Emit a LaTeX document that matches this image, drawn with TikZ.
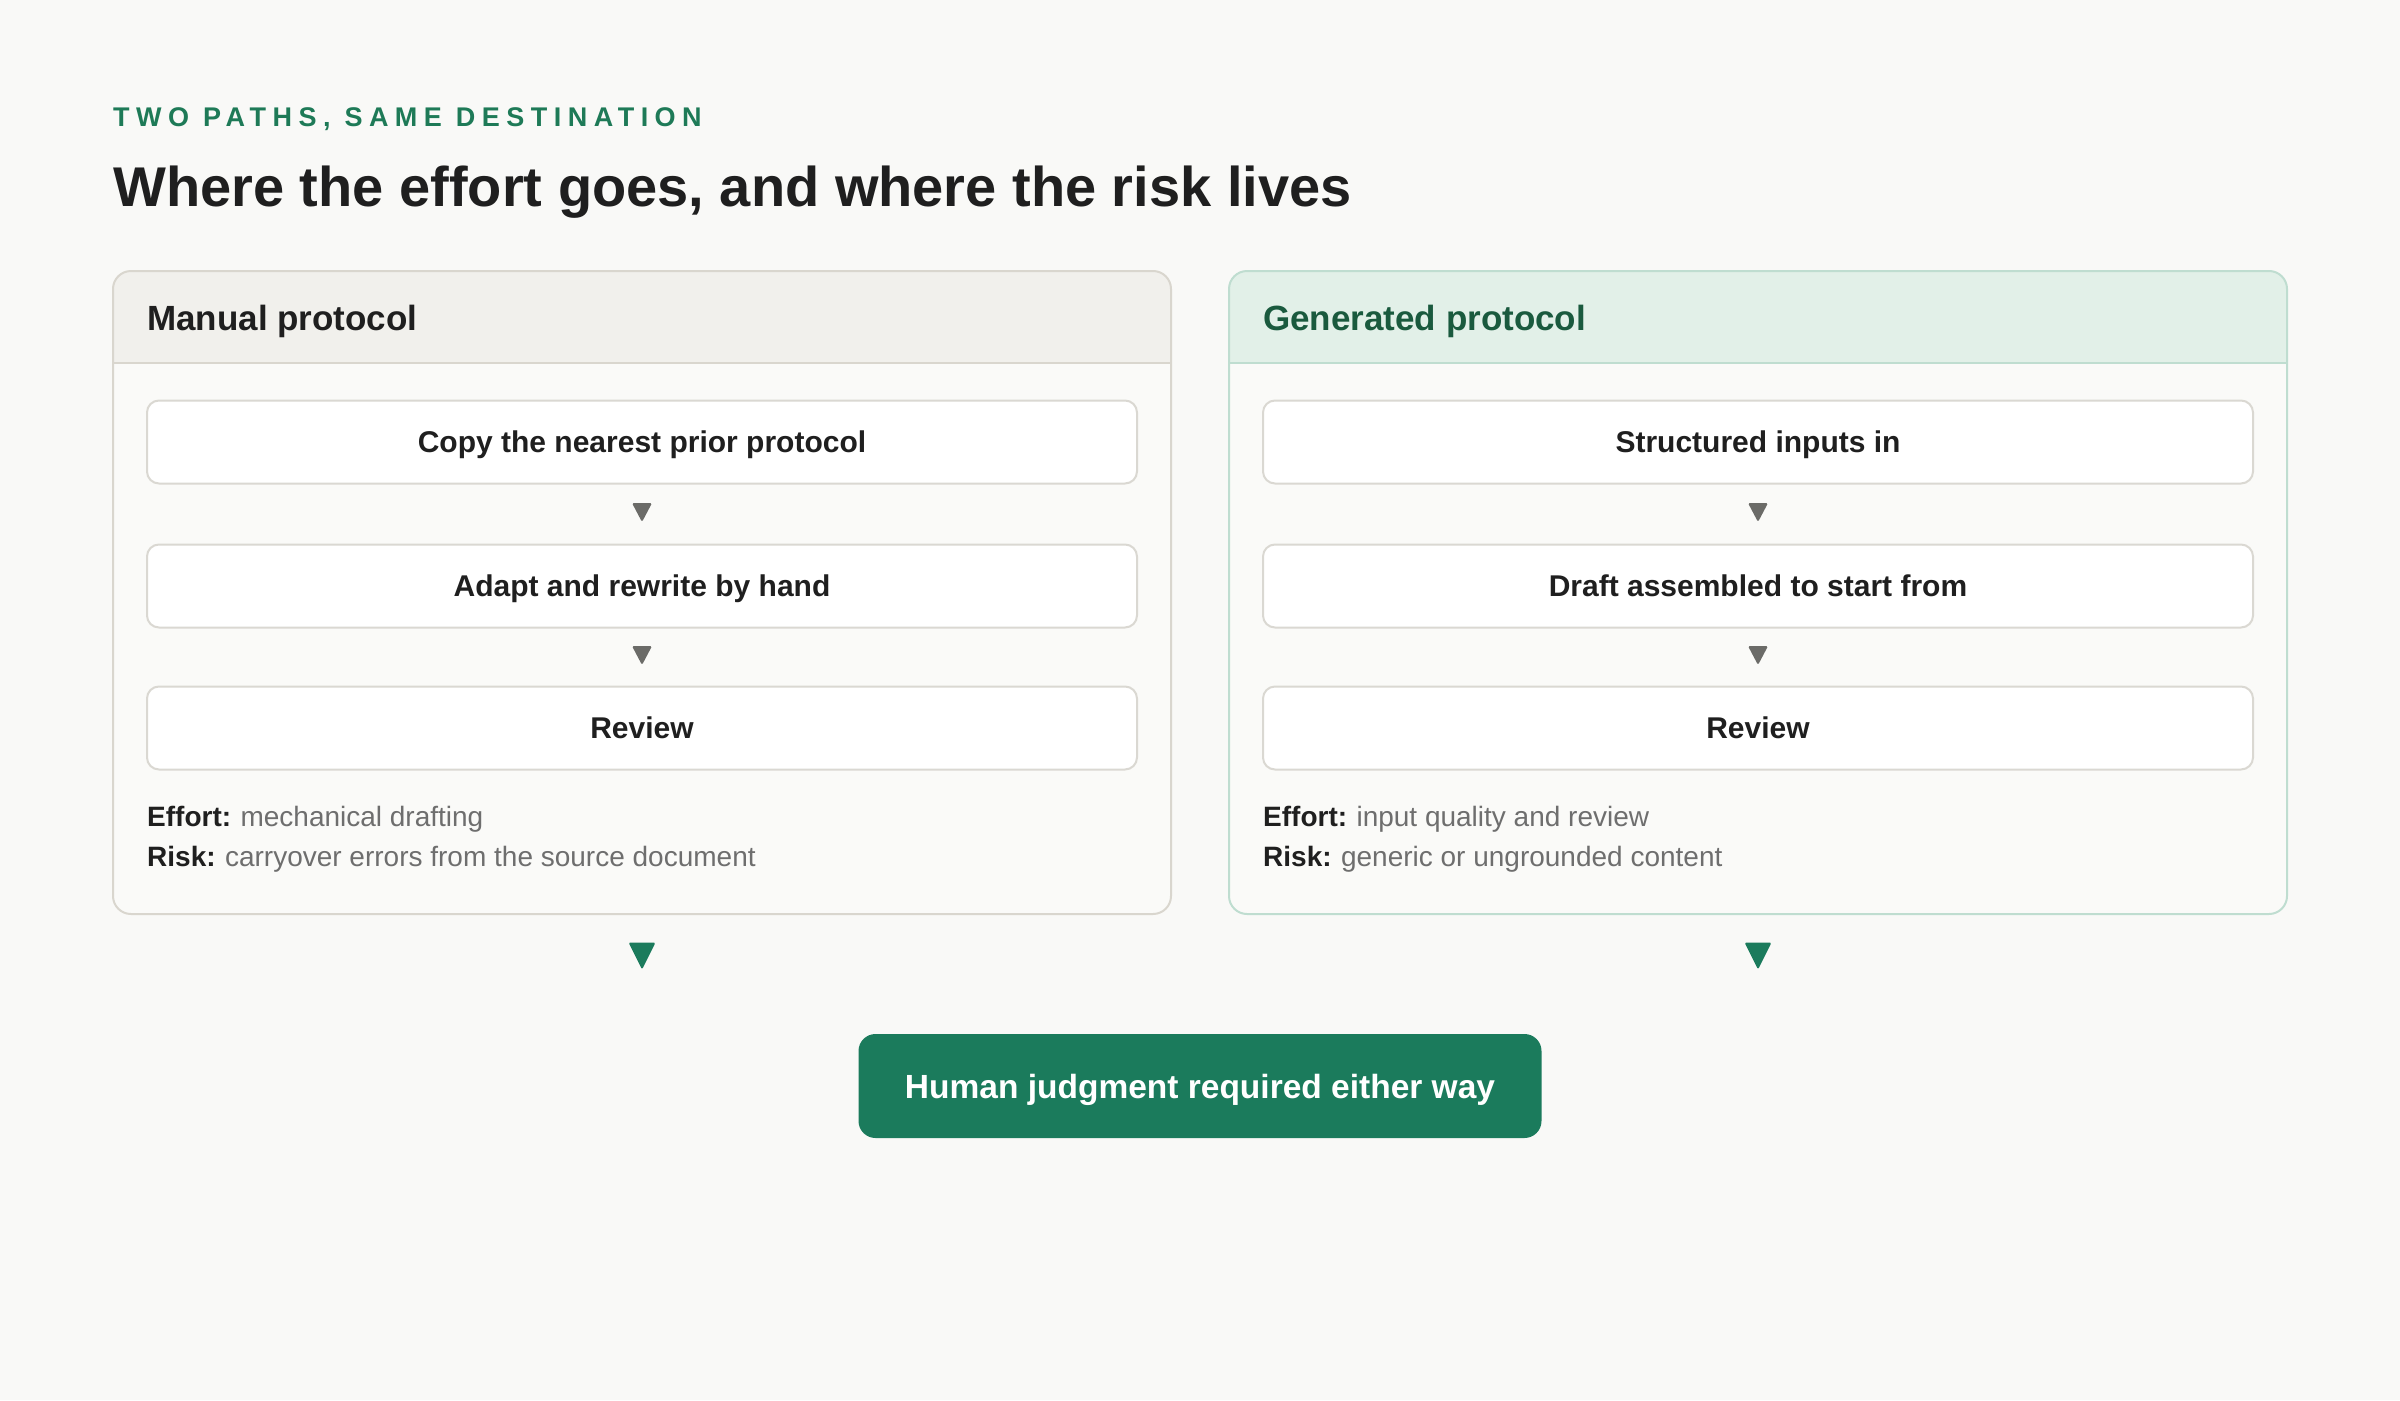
\documentclass[tikz,border=0pt]{standalone}
\usepackage{fontspec}
\setmainfont{Liberation Sans}
\newfontfamily\spacedfont[LetterSpace=24]{Liberation Sans}
\usetikzlibrary{calc}
\definecolor{bg}{HTML}{F9F9F7}
\definecolor{panelfill}{HTML}{FAFAF8}
\definecolor{lborder}{HTML}{D9D6CE}
\definecolor{lhead}{HTML}{F1F0EC}
\definecolor{rborder}{HTML}{BFDDD0}
\definecolor{rhead}{HTML}{E2F0E8}
\definecolor{rheadtext}{HTML}{1A5A3E}
\definecolor{brandgreen}{HTML}{1B7B5C}
\definecolor{subgreen}{HTML}{1E7A57}
\definecolor{boxline}{HTML}{DAD8D2}
\definecolor{arrowgray}{HTML}{6B6B68}
\definecolor{muted}{HTML}{6E6E6E}
\definecolor{ink}{HTML}{1F1F1F}
\begin{document}
\begin{tikzpicture}[x=1pt,y=-1pt,
  stepbox/.style={draw=boxline, fill=white, line width=2pt, rounded corners=12pt,
    minimum width=990pt, minimum height=83pt, inner sep=0pt,
    text height=21.5pt, text depth=0pt,
    font=\fontsize{30}{36}\selectfont\bfseries, text=ink},
  headtext/.style={anchor=base west, inner sep=0pt, font=\fontsize{35}{42}\selectfont\bfseries},
  notetext/.style={anchor=base west, inner sep=0pt, font=\fontsize{28}{34}\selectfont, text=muted},
  smallarrow/.style={fill=arrowgray, rounded corners=1.5pt},
  bigarrow/.style={fill=brandgreen, rounded corners=2pt}]
\fill[bg] (0,0) rectangle (2400,1400);
\useasboundingbox (0,0) rectangle (2400,1400);

% header texts
\node[anchor=base west, inner sep=0pt, text=subgreen,
  font=\fontsize{27}{32}\selectfont\spacedfont\bfseries] (sub) at (113,126) {TWO PATHS, SAME DESTINATION};
\node[anchor=base west, inner sep=0pt, text=ink,
  font=\fontsize{56}{64}\selectfont\bfseries] (title) at (113,206) {Where the effort goes, and where the risk lives};

% left panel
\fill[panelfill, rounded corners=18pt] (113,271) rectangle (1171,914);
\begin{scope}
  \clip[rounded corners=18pt] (113,271) rectangle (1171,914);
  \fill[lhead] (113,271) rectangle (1171,363);
\end{scope}
\draw[lborder, line width=2pt] (113,363) -- (1171,363);
\draw[lborder, line width=2pt, rounded corners=18pt] (113,271) rectangle (1171,914);
\node[headtext, text=ink] (lh) at (147,330) {Manual protocol};

% right panel
\fill[panelfill, rounded corners=18pt] (1229,271) rectangle (2287,914);
\begin{scope}
  \clip[rounded corners=18pt] (1229,271) rectangle (2287,914);
  \fill[rhead] (1229,271) rectangle (2287,363);
\end{scope}
\draw[rborder, line width=2pt] (1229,363) -- (2287,363);
\draw[rborder, line width=2pt, rounded corners=18pt] (1229,271) rectangle (2287,914);
\node[headtext, text=rheadtext] (rh) at (1263,330) {Generated protocol};

% steps
\node[stepbox] (l1) at (642,442) {Copy the nearest prior protocol};
\node[stepbox] (l2) at (642,586) {Adapt and rewrite by hand};
\node[stepbox] (l3) at (642,728) {Review};
\node[stepbox] (r1) at (1758,442) {Structured inputs in};
\node[stepbox] (r2) at (1758,586) {Draft assembled to start from};
\node[stepbox] (r3) at (1758,728) {Review};

% small arrows
\foreach \a/\b in {l1/l2, l2/l3, r1/r2, r2/r3}{
  \fill[smallarrow] ($(\a.south)!0.5!(\b.north)+(0,-1.5)$) ++(-10,-9.5) -- ++(20,0) -- ++(-10,19) -- cycle;
}

% notes
\node[notetext] (le) at (147,826) {\textcolor{ink}{\bfseries Effort:}\hspace{-1pt} mechanical drafting};
\node[notetext] (lr) at (147,866) {\textcolor{ink}{\bfseries Risk:}\hspace{-1pt} carryover errors from the source document};
\node[notetext] (re) at (1263,826) {\textcolor{ink}{\bfseries Effort:}\hspace{-1pt} input quality and review};
\node[notetext] (rr) at (1263,866) {\textcolor{ink}{\bfseries Risk:}\hspace{-1pt} generic or ungrounded content};

% bottom
\node[fill=brandgreen, rounded corners=17pt, minimum width=683pt, minimum height=104pt,
  inner sep=0pt, text height=24pt, text depth=0pt, text=white,
  font=\fontsize{33.5}{40}\selectfont\bfseries] (hj) at (1200,1086) {Human judgment required either way};

\coordinate (la) at (642,956);
\coordinate (ra) at (1758,956);
\fill[bigarrow] (la) ++(-13.5,-13.5) -- ++(27,0) -- ++(-13.5,27) -- cycle;
\fill[bigarrow] (ra) ++(-13.5,-13.5) -- ++(27,0) -- ++(-13.5,27) -- cycle;
\end{tikzpicture}
\end{document}
